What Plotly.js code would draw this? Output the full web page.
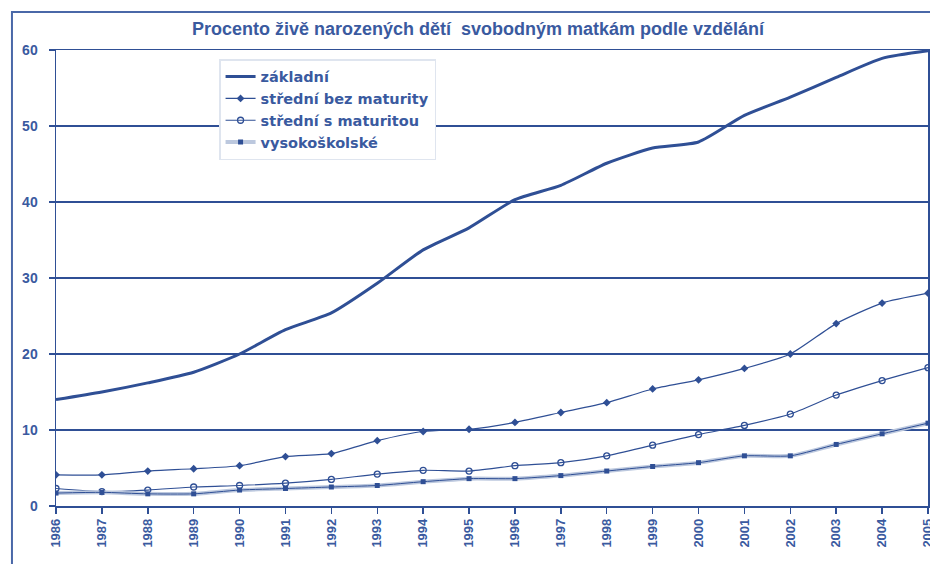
<!DOCTYPE html>
<html>
<head>
<meta charset="utf-8">
<script src="https://cdn.plot.ly/plotly-3.0.1.min.js"></script>
<style>
html,body{margin:0;padding:0;background:#fff;}
#chart{width:930px;height:564px;}
</style>
</head>
<body>
<div id="chart"></div>
<script>
const years = ['1986','1987','1988','1989','1990','1991','1992','1993','1994','1995','1996','1997','1998','1999','2000','2001','2002','2003','2004','2005'];
const zakladni = [14.0,15.0,16.2,17.6,20.0,23.2,25.4,29.3,33.7,36.6,40.3,42.2,45.1,47.1,47.9,51.4,53.8,56.4,58.9,59.9];
const stredniBez = [4.1,4.1,4.6,4.9,5.3,6.5,6.9,8.6,9.8,10.1,11.0,12.3,13.6,15.4,16.6,18.1,20.0,24.0,26.7,28.0];
const stredniS = [2.3,1.9,2.1,2.5,2.7,3.0,3.5,4.2,4.7,4.6,5.3,5.7,6.6,8.0,9.4,10.6,12.1,14.6,16.5,18.2];
const vysoko = [1.7,1.8,1.6,1.6,2.1,2.3,2.5,2.7,3.2,3.6,3.6,4.0,4.6,5.2,5.7,6.6,6.6,8.1,9.5,10.9];
const names = ['základní','střední bez maturity','střední s maturitou','vysokoškolské'];
const titleText = 'Procento živě narozených dětí  svobodným matkám podle vzdělání';

const dark = '#2f4f95';
const light = '#bcc8de';
const x = years.map(Number);

const traces = [
  {x:x, y:zakladni, name:names[0], mode:'lines', line:{color:dark, width:3, shape:'spline', smoothing:0.6}},
  {x:x, y:stredniBez, name:names[1], mode:'lines+markers', line:{color:dark, width:1.2, shape:'spline', smoothing:0.6},
   marker:{symbol:'diamond', size:6, color:dark}},
  {x:x, y:stredniS, name:names[2], mode:'lines+markers', line:{color:dark, width:1.2, shape:'spline', smoothing:0.6},
   marker:{symbol:'circle-open', size:6, color:dark, line:{width:1.3}}},
  {x:x, y:vysoko, name:names[3], mode:'lines+markers', line:{color:light, width:4, shape:'spline', smoothing:0.6},
   marker:{symbol:'square', size:5, color:dark}},
  {x:x, y:vysoko, name:names[3], showlegend:false, mode:'lines', hoverinfo:'skip', line:{color:dark, width:1, shape:'spline', smoothing:0.6}}
];

const narrow = '"Liberation Sans Narrow", "Arial Narrow", "Liberation Sans", Arial, sans-serif';
const layout = {
  width:930, height:564,
  margin:{l:56, r:2, t:50, b:58},
  paper_bgcolor:'#fff', plot_bgcolor:'#fff',
  title:{text:titleText, x:0.514, xanchor:'center', y:0.95, yanchor:'middle',
    font:{family:narrow, size:18, color:'#3a5a9f', weight:'bold'}},
  xaxis:{
    type:'linear', range:[1986,2005], tickmode:'array', tickvals:x, ticktext:years,
    tickangle:-90, ticks:'outside', ticklen:6, tickcolor:dark, tickwidth:1.5,
    ticklabeloverflow:'allow',
    showline:true, linecolor:dark, linewidth:1.5, mirror:true, showgrid:false, zeroline:false,
    tickfont:{family:narrow, size:13, color:'#3a5a9f', weight:'bold'}
  },
  yaxis:{
    range:[0,60], tickvals:[0,10,20,30,40,50,60], ticks:'outside', ticklen:6, tickcolor:dark, tickwidth:1.5,
    ticklabelstandoff:8,
    showline:true, linecolor:dark, linewidth:1.5, mirror:true,
    showgrid:true, gridcolor:dark, gridwidth:1.5, zeroline:false,
    tickfont:{family:narrow, size:14, color:'#3a5a9f', weight:'bold'}
  },
  legend:{x:0.187, y:0.98, xanchor:'left', yanchor:'top', bgcolor:'#fff', bordercolor:'#dfe5ef', borderwidth:1.5,
    font:{family:'"DejaVu Sans", Verdana, sans-serif', size:14.5, color:'#3a5a9f', weight:'bold'},
    tracegroupgap:0, itemwidth:30},
  shapes:[
    {type:'rect', xref:'paper', yref:'paper', x0:-0.0505, x1:1.2, y0:-0.4, y1:1.0833,
     line:{color:'#4a68a8', width:2}, fillcolor:'rgba(0,0,0,0)', layer:'below'}
  ],
  showlegend:true
};

Plotly.newPlot('chart', traces, layout, {displayModeBar:false, staticPlot:true});
</script>
</body>
</html>
